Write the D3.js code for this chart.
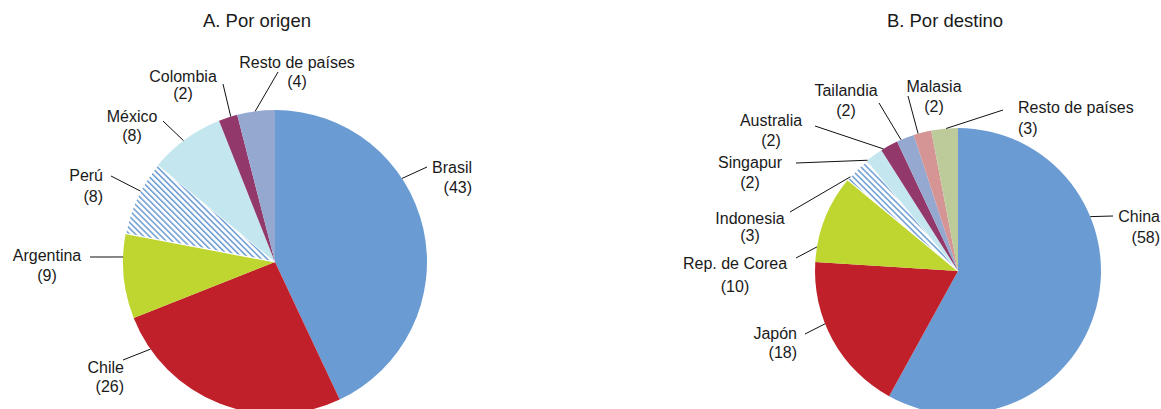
<!DOCTYPE html>
<html>
<head>
<meta charset="utf-8">
<script src="https://cdn.jsdelivr.net/npm/d3@7"></script>
<style>
  body { margin: 0; background: #fff; }
  svg text { font-family: "Liberation Sans", Arial, sans-serif; fill: #1a1a1a; }
</style>
</head>
<body>
<div class="charts"></div>
<script>
// Data (share in %)
const origenTitulo = "A. Por origen";
const origenPaises = ["Brasil", "Chile", "Argentina", "Perú", "México", "Colombia", "Resto de países"];
const origenValores = [43, 26, 9, 8, 8, 2, 4];

const destinoTitulo = "B. Por destino";
const destinoPaises = ["China", "Japón", "Rep. de Corea", "Indonesia", "Singapur", "Australia", "Tailandia", "Malasia", "Resto de países"];
const destinoValores = [58, 18, 10, 3, 2, 2, 2, 2, 3];

// colours ("hatch" = striped blue)
const origenColores = ["#6a9bd3", "#c0202a", "#bed62f", "hatch", "#c4e7ef", "#92386b", "#94a8d0"];
const destinoColores = ["#6a9bd3", "#c0202a", "#bed62f", "hatch", "#c4e7ef", "#92386b", "#94a8d0", "#d59595", "#bccb99"];

// label layout, relative to pie centre: t = where the leader touches the slice (0..1)
const origenEtiquetas = [
  { t: 0.366, end: [152, -95], pos: [197, -89], anchor: "end", gap: 20 },
  { t: 0.857, end: [-152, 98], pos: [-151, 111], anchor: "end", gap: 19 },
  { t: 0.725, end: [-185, -5], pos: [-228, -1], anchor: "middle", gap: 20 },
  { t: 0.59, end: [-164, -86], pos: [-172, -81], anchor: "end", gap: 21 },
  { t: 0.465, end: [-112, -141], pos: [-143, -140], anchor: "middle", gap: 19 },
  { t: 0.65, end: [-52, -178], pos: [-92, -180], anchor: "middle", gap: 17 },
  { t: 0.48, end: [3, -190], pos: [22, -194], anchor: "middle", gap: 19 }
];
const destinoEtiquetas = [
  { t: 0.324, end: [155, -55], pos: [202, -49], anchor: "end", gap: 21 },
  { t: 0.61, end: [-153, 63], pos: [-161, 68], anchor: "end", gap: 19 },
  { t: 0.17, end: [-162, -13], pos: [-223, -2], anchor: "middle", gap: 23 },
  { t: 0.15, end: [-168, -59], pos: [-208, -47], anchor: "middle", gap: 17 },
  { t: 0.05, end: [-162, -108], pos: [-208, -103], anchor: "middle", gap: 20 },
  { t: 0.14, end: [-143, -145], pos: [-187, -145], anchor: "middle", gap: 20 },
  { t: 0.24, end: [-79, -168], pos: [-112, -175], anchor: "middle", gap: 20 },
  { t: 0.25, end: [-50, -175], pos: [-24, -179], anchor: "middle", gap: 20 },
  { t: 0.56, end: [45, -161], pos: [60, -158], anchor: "start", gap: 21 }
];

const width = 1161, height = 409;

const svg = d3.select(".charts")
  .append("svg")
  .attr("width", width)
  .attr("height", height);

// striped pattern for the hatched slices
const pattern = svg.append("defs")
  .append("pattern")
  .attr("id", "rayado")
  .attr("patternUnits", "userSpaceOnUse")
  .attr("width", 4.2)
  .attr("height", 4.2)
  .attr("patternTransform", "rotate(-45)");
pattern.append("rect").attr("width", 4.2).attr("height", 4.2).attr("fill", "#fff");
pattern.append("rect").attr("width", 1.5).attr("height", 4.2).attr("fill", "#6a9bd3");

function DrawPie(cx, cy, radius, titulo, tituloDx, paises, valores, colores, etiquetas) {
  const data = paises.map((p, i) => ({ pais: p, valor: valores[i], color: colores[i], label: etiquetas[i] }));

  const g = svg.append("g").attr("transform", "translate(" + cx + "," + cy + ")");

  const pie = d3.pie().sort(null).value(d => d.valor);
  const arc = d3.arc().innerRadius(0).outerRadius(radius);
  const arcs = pie(data);

  g.selectAll("path.slice")
    .data(arcs)
    .enter()
    .append("path")
    .attr("class", "slice")
    .attr("d", arc)
    .attr("fill", d => d.data.color === "hatch" ? "url(#rayado)" : d.data.color)
    .attr("stroke", d => d.data.color === "hatch" ? "#fff" : "none")
    .attr("stroke-width", 1.2);

  // leader lines
  g.selectAll("line.leader")
    .data(arcs)
    .enter()
    .append("line")
    .attr("class", "leader")
    .attr("x1", d => radius * Math.sin(d.startAngle + d.data.label.t * (d.endAngle - d.startAngle)))
    .attr("y1", d => -radius * Math.cos(d.startAngle + d.data.label.t * (d.endAngle - d.startAngle)))
    .attr("x2", d => d.data.label.end[0])
    .attr("y2", d => d.data.label.end[1])
    .attr("stroke", "#111")
    .attr("stroke-width", 1);

  // labels: name + (value)
  const labels = g.selectAll("text.label")
    .data(arcs)
    .enter()
    .append("text")
    .attr("class", "label")
    .attr("text-anchor", d => d.data.label.anchor)
    .style("font-size", "16px");
  labels.append("tspan")
    .attr("x", d => d.data.label.pos[0])
    .attr("y", d => d.data.label.pos[1])
    .text(d => d.data.pais);
  labels.append("tspan")
    .attr("x", d => d.data.label.pos[0])
    .attr("y", d => d.data.label.pos[1] + d.data.label.gap)
    .text(d => "(" + d3.format("d")(d.data.valor) + ")");

  svg.append("text")
    .attr("x", cx + tituloDx)
    .attr("y", 27)
    .attr("text-anchor", "middle")
    .style("font-size", "18.5px")
    .text(titulo);
}

DrawPie(275, 262, 152, origenTitulo, -18, origenPaises, origenValores, origenColores, origenEtiquetas);
DrawPie(958, 271, 143, destinoTitulo, -13, destinoPaises, destinoValores, destinoColores, destinoEtiquetas);
</script>
</body>
</html>
